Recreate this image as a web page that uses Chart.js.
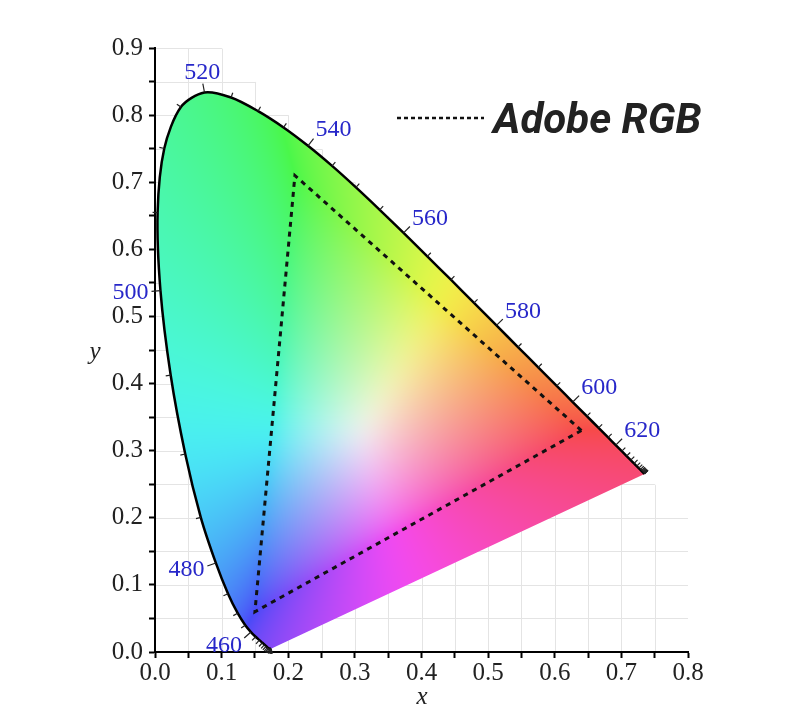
<!DOCTYPE html>
<html><head><meta charset="utf-8">
<style>html,body{margin:0;padding:0;background:#fff}#wrap{width:790px;height:718px}</style>
<script src="https://cdn.jsdelivr.net/npm/chart.js@4.4.1/dist/chart.umd.min.js"></script>
</head><body><div id="wrap"><canvas id="c" width="790" height="718"></canvas></div>
<script>
// CIE 1931 2° spectral locus, 5 nm steps
const wavelengths = [380,385,390,395,400,405,410,415,420,425,430,435,440,445,450,455,460,465,470,475,480,485,490,495,500,505,510,515,520,525,530,535,540,545,550,555,560,565,570,575,580,585,590,595,600,605,610,615,620,625,630,635,640,645,650,655,660,665,670,675,680,685,690,695,700];
const locusX = [0.1741,0.1740,0.1738,0.1736,0.1733,0.1730,0.1726,0.1721,0.1714,0.1703,0.1689,0.1669,0.1644,0.1611,0.1566,0.1510,0.1440,0.1355,0.1241,0.1096,0.0913,0.0687,0.0454,0.0235,0.0082,0.0039,0.0139,0.0389,0.0743,0.1142,0.1547,0.1929,0.2296,0.2658,0.3016,0.3373,0.3731,0.4087,0.4441,0.4788,0.5125,0.5448,0.5752,0.6029,0.6270,0.6482,0.6658,0.6801,0.6915,0.7006,0.7079,0.7140,0.7190,0.7230,0.7260,0.7283,0.7300,0.7311,0.7320,0.7327,0.7334,0.7340,0.7344,0.7346,0.7347];
const locusY = [0.0050,0.0050,0.0049,0.0049,0.0048,0.0048,0.0048,0.0048,0.0051,0.0058,0.0069,0.0086,0.0109,0.0138,0.0177,0.0227,0.0297,0.0399,0.0578,0.0868,0.1327,0.2007,0.2950,0.4127,0.5384,0.6548,0.7502,0.8120,0.8338,0.8262,0.8059,0.7816,0.7543,0.7243,0.6923,0.6589,0.6245,0.5896,0.5547,0.5202,0.4866,0.4544,0.4242,0.3965,0.3725,0.3514,0.3340,0.3197,0.3083,0.2993,0.2920,0.2859,0.2809,0.2770,0.2740,0.2717,0.2700,0.2689,0.2680,0.2673,0.2666,0.2660,0.2656,0.2654,0.2653];
const labeledWavelengths = [460,480,500,520,540,560,580,600,620];
// Adobe RGB primaries (R, G, B, back to R)
const adobeX = [0.64,0.21,0.15,0.64];
const adobeY = [0.33,0.71,0.06,0.33];
const xTickLabels = ['0.0','0.1','0.2','0.3','0.4','0.5','0.6','0.7','0.8'];
const yTickLabels = ['0.0','0.1','0.2','0.3','0.4','0.5','0.6','0.7','0.8','0.9'];
const legendLabel = 'Adobe RGB';

const SERIF = '"Liberation Serif","DejaVu Serif",serif';

function xyToRGB(x, y){
  if (y < 1e-4) y = 1e-4;
  const X = x / y, Y = 1, Z = (1 - x - y) / y;
  let r =  2.0414*X - 0.5649*Y - 0.3447*Z;
  let g = -0.9693*X + 1.8760*Y + 0.0416*Z;
  let b =  0.0134*X - 0.1184*Y + 1.0154*Z;
  const m = Math.min(r, g, b);
  if (m < 0){ r -= m; g -= m; b -= m; }
  const P = 8;
  const M = Math.pow(Math.pow(r, P) + Math.pow(g, P) + Math.pow(b, P), 1/P) || 1;
  const W = 0.07, S = 0.97;
  const f = v => { v = Math.min(1, W + (1 - W) * (v / M)); return Math.round(255 * S * Math.pow(v, 1/2.2)); };
  return [f(r), f(g), f(b)];
}

function pix(chart, vx, vy){
  return [chart.scales.x.getPixelForValue(vx), chart.scales.y.getPixelForValue(vy)];
}

const ciePlugin = {
  id: 'cie',
  beforeDraw(chart){
    const ctx = chart.ctx, xs = chart.scales.x, ys = chart.scales.y;
    ctx.save();
    ctx.beginPath();
    const poly = [[0,0],[0,0.9],[0.1,0.9],[0.8,0.2],[0.8,0]];
    poly.forEach((p,i)=>{ const q = pix(chart,p[0],p[1]); i ? ctx.lineTo(q[0],q[1]) : ctx.moveTo(q[0],q[1]); });
    ctx.closePath();
    ctx.clip();
    ctx.strokeStyle = '#e4e4e4';
    ctx.lineWidth = 1;
    xs.ticks.forEach(t => { const px = Math.round(xs.getPixelForValue(t.value)) + 0.5; ctx.beginPath(); ctx.moveTo(px, chart.chartArea.top); ctx.lineTo(px, chart.chartArea.bottom); ctx.stroke(); });
    ys.ticks.forEach(t => { const py = Math.round(ys.getPixelForValue(t.value)) + 0.5; ctx.beginPath(); ctx.moveTo(chart.chartArea.left, py); ctx.lineTo(chart.chartArea.right, py); ctx.stroke(); });
    ctx.restore();
  },
  beforeDatasetsDraw(chart){
    const ctx = chart.ctx, a = chart.chartArea, xs = chart.scales.x, ys = chart.scales.y;
    const w = Math.ceil(a.right - a.left), h = Math.ceil(a.bottom - a.top);
    const off = document.createElement('canvas');
    off.width = w; off.height = h;
    const octx = off.getContext('2d');
    const img = octx.createImageData(w, h);
    const xv = new Float64Array(w);
    for (let i = 0; i < w; i++) xv[i] = xs.getValueForPixel(a.left + i + 0.5);
    for (let j = 0; j < h; j++){
      const yv = ys.getValueForPixel(a.top + j + 0.5);
      for (let i = 0; i < w; i++){
        const c = xyToRGB(xv[i], yv);
        const k = (j*w + i)*4;
        img.data[k] = c[0]; img.data[k+1] = c[1]; img.data[k+2] = c[2]; img.data[k+3] = 255;
      }
    }
    octx.putImageData(img, 0, 0);
    const line = chart.getDatasetMeta(0).dataset;
    if (line.updateControlPoints) line.updateControlPoints(a);
    ctx.save();
    ctx.beginPath();
    line.path(ctx);
    ctx.closePath();
    ctx.clip();
    ctx.drawImage(off, a.left, a.top);
    ctx.restore();
  },
  afterDatasetsDraw(chart){
    const ctx = chart.ctx;
    const pts = wavelengths.map((wl, i) => pix(chart, locusX[i], locusY[i]));
    ctx.save();
    ctx.strokeStyle = '#222';
    ctx.lineWidth = 1.2;
    ctx.font = '24px ' + SERIF;
    for (let i = 0; i < pts.length; i++){
      const p0 = pts[Math.max(i-1, 0)], p1 = pts[Math.min(i+1, pts.length-1)];
      let dx = p1[0]-p0[0], dy = p1[1]-p0[1];
      let L = Math.hypot(dx, dy) || 1;
      const nx = dy / L, ny = -dx / L;
      const major = labeledWavelengths.includes(wavelengths[i]);
      const len = major ? 9 : 5;
      const p = pts[i];
      const ex = p[0] + nx*len, ey = p[1] + ny*len;
      ctx.beginPath(); ctx.moveTo(p[0], p[1]); ctx.lineTo(ex, ey); ctx.stroke();
      if (major){
        ctx.fillStyle = '#2727c9';
        ctx.textAlign = nx > 0.25 ? 'left' : (nx < -0.25 ? 'right' : 'center');
        ctx.textBaseline = 'middle';
        ctx.fillText(String(wavelengths[i]), ex + nx*3, ey + ny*11);
      }
    }
    ctx.restore();
  },
  afterDraw(chart){
    const ctx = chart.ctx, a = chart.chartArea;
    ctx.save();
    ctx.fillStyle = '#222';
    ctx.font = 'italic 25px ' + SERIF;
    ctx.textAlign = 'center'; ctx.textBaseline = 'middle';
    ctx.fillText('x', (a.left + a.right)/2 + 0.5, 697);
    ctx.fillText('y', 95, 352);
    // legend
    const ds = chart.data.datasets[1];
    ctx.strokeStyle = ds.borderColor;
    ctx.lineWidth = 2.5;
    ctx.setLineDash([4, 3]);
    ctx.beginPath(); ctx.moveTo(397, 118); ctx.lineTo(484, 118); ctx.stroke();
    ctx.setLineDash([]);
    ctx.fillStyle = '#222';
    ctx.font = 'italic bold 42px Roboto, "Open Sans", sans-serif';
    ctx.textAlign = 'left'; ctx.textBaseline = 'alphabetic';
    ctx.fillText(legendLabel, 493, 133);
    ctx.restore();
  }
};

const tickFont = { family: SERIF, size: 25 };
new Chart(document.getElementById('c'), {
  type: 'scatter',
  data: { datasets: [
    { label: 'Spectral locus', data: wavelengths.map((w, i) => ({ x: locusX[i], y: locusY[i] })), showLine: true, borderColor: '#000', borderWidth: 2.5, pointRadius: 0, tension: 0.3, fill: false },
    { label: legendLabel, data: adobeX.map((x, i) => ({ x: x, y: adobeY[i] })), showLine: true, borderColor: '#111', borderWidth: 3, borderDash: [5, 5], pointRadius: 0, tension: 0, fill: false }
  ]},
  options: {
    responsive: false, animation: false, devicePixelRatio: 1,
    layout: { padding: { left: 55, right: 102, top: 48, bottom: 0 } },
    plugins: { legend: { display: false }, tooltip: { enabled: false } },
    scales: {
      x: { type: 'linear', min: 0, max: 0.8,
        ticks: { stepSize: 0.05, autoSkip: false, maxRotation: 0, color: '#222', font: tickFont, padding: 0,
          callback: (v, i) => (i % 2 === 0 ? xTickLabels[i/2] : '') },
        grid: { drawOnChartArea: false, drawTicks: true, tickLength: 6, tickColor: '#000', tickWidth: 2 },
        border: { color: '#000', width: 2 },
        afterFit(s){ s.height = 66; } },
      y: { type: 'linear', min: 0, max: 0.9,
        ticks: { stepSize: 0.05, autoSkip: false, color: '#222', font: tickFont, padding: 6,
          callback: (v, i) => (i % 2 === 0 ? yTickLabels[i/2] : '') },
        grid: { drawOnChartArea: false, drawTicks: true, tickLength: 6, tickColor: '#000', tickWidth: 2 },
        border: { color: '#000', width: 2 },
        afterFit(s){ s.width = 100; } }
    }
  },
  plugins: [ciePlugin]
});
</script></body></html>
